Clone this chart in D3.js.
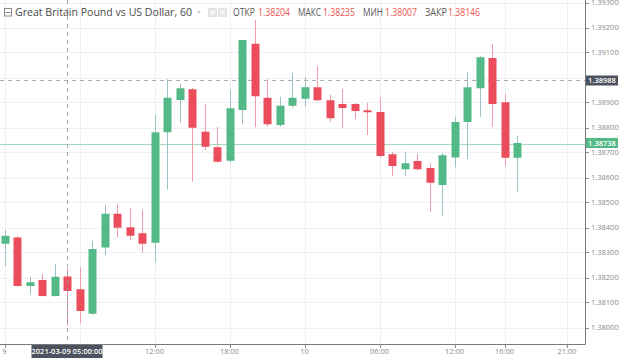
<!DOCTYPE html>
<html><head><meta charset="utf-8">
<script src="https://cdn.jsdelivr.net/npm/d3@7"></script>
<style>
html,body{margin:0;padding:0;background:#fff;}
svg{display:block;}
text{font-family:"Open Sans","Noto Sans",sans-serif;}
</style></head><body>
<svg id="c" width="620" height="360"></svg>
<script>
// ---- data (hourly candles, hour 0 = 2021-03-09 00:00) ----
const hours  = [0,1,2,3,4,5,6,7,8,9,10,11,12,13,14,15,16,17,18,19,20,21,22,23,24,25,26,27,28,29,30,31,32,33,34,35,36,37,38,39,40,41];
const opens  = [1.38335,1.38360,1.38166,1.38190,1.38126,1.38204,1.38153,1.38055,1.38320,1.38455,1.38401,1.38377,1.38339,1.38781,1.38910,1.38953,1.38783,1.38721,1.38667,1.38870,1.39135,1.38919,1.38810,1.38887,1.38915,1.38961,1.38909,1.38894,1.38894,1.38869,1.38862,1.38693,1.38633,1.38666,1.38638,1.38570,1.38680,1.38822,1.38957,1.39078,1.38901,1.38679];
const highs  = [1.38390,1.38366,1.38203,1.38214,1.38253,1.38235,1.38241,1.38347,1.38490,1.38493,1.38477,1.38470,1.38850,1.38993,1.38974,1.38958,1.38894,1.38803,1.38950,1.39152,1.39230,1.38993,1.38923,1.39019,1.39001,1.39046,1.38930,1.38953,1.38898,1.38899,1.38921,1.38703,1.38703,1.38694,1.38657,1.38699,1.38843,1.39023,1.39085,1.39134,1.38933,1.38766];
const lows   = [1.38246,1.38164,1.38133,1.38124,1.38124,1.38007,1.38017,1.38050,1.38290,1.38361,1.38350,1.38299,1.38261,1.38553,1.38819,1.38583,1.38710,1.38659,1.38660,1.38813,1.38801,1.38803,1.38803,1.38880,1.38883,1.38905,1.38823,1.38799,1.38833,1.38770,1.38680,1.38606,1.38606,1.38628,1.38463,1.38446,1.38641,1.38673,1.38843,1.38803,1.38646,1.38541];
const closes = [1.38367,1.38166,1.38181,1.38126,1.38203,1.38146,1.38066,1.38314,1.38455,1.38399,1.38367,1.38335,1.38781,1.38919,1.38957,1.38799,1.38723,1.38663,1.38877,1.39150,1.38925,1.38813,1.38887,1.38919,1.38961,1.38909,1.38837,1.38878,1.38866,1.38861,1.38686,1.38646,1.38657,1.38633,1.38579,1.38689,1.38822,1.38961,1.39081,1.38894,1.38679,1.38738];

const yTicks = [1.380,1.381,1.382,1.383,1.384,1.385,1.386,1.387,1.388,1.389,1.390,1.391,1.392,1.393];
const xTickHours  = [0,6,12,18,24,30,36,40,45];
const xTickLabels = ["9","06:00","12:00","18:00","10","06:00","12:00","16:00","21:00"];

const title = "Great Britain Pound vs US Dollar, 60";
const crossHour = 5;
const crossLabel = "2021-03-09 05:00:00";
const crossPrice = 1.38988;
const lastPrice = 1.38738;
const legendNames = ["ОТКР","МАКС","МИН","ЗАКР"];

// ---- layout ----
const W = 620, H = 360, plotR = 585.5, plotB = 344.5;
const svg = d3.select("#c");
const x = d3.scaleLinear().domain([0, 40]).range([4.5, 504.5]);
const y = d3.scaleLinear().domain([1.380, 1.393]).range([327.5, 2.5]);
const fmt = d3.format(".5f");
const UP = "#53b987", DN = "#eb4d5c";
const UPW = "#9dbfc6", DNW = "#f29aa5";

svg.append("rect").attr("width", W).attr("height", H).attr("fill", "#fff");

const plot = svg.append("g");
// grid
plot.selectAll("line.hg").data(yTicks).enter().append("line")
  .attr("x1", 0).attr("x2", plotR).attr("y1", d => Math.round(y(d)) + 0.5).attr("y2", d => Math.round(y(d)) + 0.5)
  .attr("stroke", "#edf0f5").attr("stroke-width", 1);
plot.selectAll("line.vg").data(xTickHours).enter().append("line")
  .attr("x1", d => Math.round(x(d)) + 0.5).attr("x2", d => Math.round(x(d)) + 0.5).attr("y1", 0).attr("y2", plotB)
  .attr("stroke", "#edf0f5").attr("stroke-width", 1);

// crosshair + price lines
plot.append("line").attr("x1", 0).attr("x2", plotR)
  .attr("y1", Math.round(y(lastPrice)) + 1.5).attr("y2", Math.round(y(lastPrice)) + 1.5)
  .attr("stroke", UP).attr("stroke-opacity", 0.55);
plot.append("line").attr("x1", 0).attr("x2", plotR)
  .attr("y1", Math.round(y(crossPrice)) + 0.5).attr("y2", Math.round(y(crossPrice)) + 0.5)
  .attr("stroke", "#9598a1").attr("stroke-dasharray", "4,4").attr("stroke-opacity", 0.8);

// candles
const idx = d3.range(hours.length);
const bw = 8;
plot.selectAll("line.wick").data(idx).enter().append("line")
  .attr("x1", i => Math.round(x(hours[i])) + 0.5).attr("x2", i => Math.round(x(hours[i])) + 0.5)
  .attr("y1", i => y(highs[i])).attr("y2", i => y(lows[i]))
  .attr("stroke", i => closes[i] >= opens[i] ? UPW : DNW).attr("stroke-width", 1);
plot.selectAll("rect.body").data(idx).enter().append("rect")
  .attr("x", i => Math.round(x(hours[i])) + 0.5 - bw / 2)
  .attr("width", bw)
  .attr("y", i => y(Math.max(opens[i], closes[i])))
  .attr("height", i => Math.max(1, Math.abs(y(opens[i]) - y(closes[i]))))
  .attr("fill", i => closes[i] >= opens[i] ? UP : DN);

// vertical crosshair
plot.append("line").attr("x1", Math.round(x(crossHour)) + 0.5).attr("x2", Math.round(x(crossHour)) + 0.5)
  .attr("y1", 0).attr("y2", plotB)
  .attr("stroke", "#9598a1").attr("stroke-dasharray", "4,4").attr("stroke-opacity", 0.8);

// ---- axes ----
const axisCol = "#8a8a8a";
svg.append("line").attr("x1", plotR).attr("x2", plotR).attr("y1", 0).attr("y2", plotB).attr("stroke", "#7a7a7a");
svg.append("line").attr("x1", 0).attr("x2", plotR).attr("y1", plotB).attr("y2", plotB).attr("stroke", "#7a7a7a");

const yAxis = svg.append("g");
yAxis.selectAll("line").data(yTicks).enter().append("line")
  .attr("x1", plotR).attr("x2", plotR + 3.5)
  .attr("y1", d => Math.round(y(d)) + 0.5).attr("y2", d => Math.round(y(d)) + 0.5)
  .attr("stroke", "#8a8a8a");
// tick labels hidden under the crosshair price tag are not drawn (as in the reference)
const shownY = yTicks.filter(d => Math.abs(y(d) - y(crossPrice)) > 8);
yAxis.selectAll("text").data(shownY).enter().append("text")
  .attr("x", 591).attr("y", d => y(d)).attr("dy", "0.35em")
  .attr("font-size", 7.5).attr("fill", axisCol).text(d => fmt(d));

const xAxis = svg.append("g");
xAxis.selectAll("line").data(xTickHours).enter().append("line")
  .attr("x1", d => Math.round(x(d)) + 0.5).attr("x2", d => Math.round(x(d)) + 0.5)
  .attr("y1", plotB).attr("y2", plotB + 3.5).attr("stroke", "#8a8a8a");
// labels hidden under the crosshair time tag are not drawn
const shownX = xTickHours.map((h, i) => ({h, l: xTickLabels[i]})).filter(d => Math.abs(x(d.h) - x(crossHour)) > 40);
xAxis.selectAll("text").data(shownX).enter().append("text")
  .attr("x", d => x(d.h)).attr("y", 351.5).attr("dy", "0.35em").attr("text-anchor", "middle")
  .attr("font-size", 7.5).attr("fill", axisCol).text(d => d.l);

// price labels on axis
function priceTag(v, fill) {
  const cy = y(v);
  svg.append("rect").attr("x", 586).attr("y", cy - 5).attr("width", 32).attr("height", 10).attr("fill", fill);
  svg.append("text").attr("x", 602).attr("y", cy).attr("dy", "0.35em").attr("text-anchor", "middle")
    .attr("font-size", 7.5).attr("font-weight", 600).attr("fill", "#fff").text(fmt(v));
}
priceTag(crossPrice, "#4c525e");
priceTag(lastPrice, UP);

// time label
const tx = x(crossHour);
svg.append("rect").attr("x", tx - 35.5).attr("y", 345).attr("width", 71).attr("height", 13).attr("fill", "#4c525e");
svg.append("text").attr("x", tx).attr("y", 351.5).attr("dy", "0.35em").attr("text-anchor", "middle")
  .attr("font-size", 7.5).attr("font-weight", 600).attr("fill", "#fff").text(crossLabel);

// ---- legend ----
const lg = svg.append("g");
lg.append("rect").attr("x", 4.5).attr("y", 8.5).attr("width", 7).attr("height", 7.5).attr("fill", "none").attr("stroke", "#8a8a8a");
lg.append("line").attr("x1", 6).attr("x2", 10).attr("y1", 12.5).attr("y2", 12.5).attr("stroke", "#8a8a8a");
lg.append("text").attr("x", 15).attr("y", 16).attr("font-size", 11).attr("fill", "#4a4a4a")
  .attr("textLength", 177).attr("lengthAdjust", "spacingAndGlyphs").text(title);
// small dropdown marker
lg.append("path").attr("d", "M197,11 L201,11 L199,13.5 Z").attr("fill", "#c0c0c0");
[208, 218].forEach(px => {
  lg.append("rect").attr("x", px).attr("y", 8).attr("width", 9).attr("height", 9).attr("rx", 1).attr("fill", "#e3e3e3");
  lg.append("rect").attr("x", px + 2).attr("y", 10).attr("width", 5).attr("height", 5).attr("fill", "#f3f3f3");
});
const legVals = [opens[crossHour], highs[crossHour], lows[crossHour], closes[crossHour]];
const nameX = [233, 298, 363, 425], nameW = [22, 23, 20, 22];
const valX = [258, 323, 385, 448];
legendNames.forEach((n, i) => {
  lg.append("text").attr("x", nameX[i]).attr("y", 16).attr("font-size", 10).attr("fill", "#5a5a5a")
    .attr("textLength", nameW[i]).attr("lengthAdjust", "spacingAndGlyphs").text(n);
  lg.append("text").attr("x", valX[i]).attr("y", 16).attr("font-size", 10).attr("fill", "#ef5350")
    .attr("textLength", 32).attr("lengthAdjust", "spacingAndGlyphs").text(fmt(legVals[i]));
});
</script>
</body></html>
